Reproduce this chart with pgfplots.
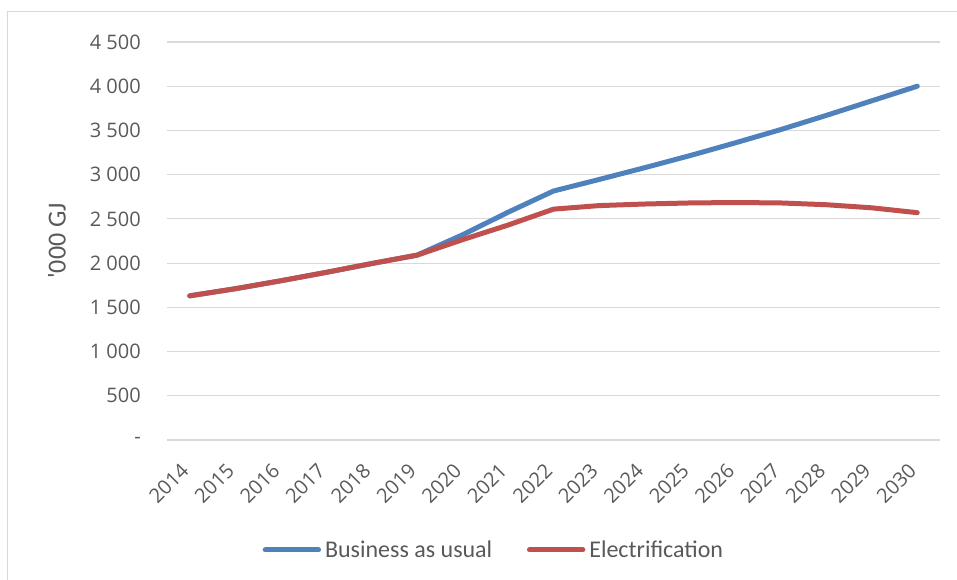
\documentclass[border=0pt]{standalone}
\usepackage{pgfplots}
\pgfplotsset{compat=1.18}
\usepackage{fontspec}
\setmainfont{Carlito}
\newfontfamily\tickfont{Open Sans}
\definecolor{bau}{HTML}{4F81BD}
\definecolor{elec}{HTML}{C0504D}
\definecolor{gridc}{HTML}{D9D9D9}
\definecolor{txt}{HTML}{595959}
\begin{document}
\begin{tikzpicture}
\useasboundingbox (0,0) rectangle (717.75pt,435pt);
\begin{axis}[
  at={(125.25pt,105pt)}, anchor=south west,
  scale only axis, width=579.75pt, height=298.5pt,
  xmin=-0.5, xmax=16.5, ymin=0, ymax=4500,
  axis line style={draw=none},
  major tick length=0pt,
  xtick={0,...,16},
  xticklabels={2014,2015,2016,2017,2018,2019,2020,2021,2022,2023,2024,2025,2026,2027,2028,2029,2030},
  ytick={0,500,...,4500},
  yticklabels={{-\hspace{0.7em}},500,1 000,1 500,2 000,2 500,3 000,3 500,4 000,4 500},
  ymajorgrids, grid style={gridc, line width=0.9pt},
  ticklabel style={font=\tickfont\fontsize{15}{18}\selectfont, text=txt},
  xticklabel style={xshift=-7.5pt, yshift=-16pt, rotate=45, anchor=north east, inner sep=0pt},
  yticklabel style={anchor=east, inner sep=0pt, xshift=-19.5pt},
  ylabel={\textquotesingle 000 GJ},
  every axis y label/.style={at={(axis description cs:-0.1423,0.5)}, rotate=90, anchor=center, font=\fontsize{19.5}{22}\selectfont, text=txt},
  legend columns=2,
  legend style={at={(axis description cs:0.1235,-0.2764)}, anchor=west, draw=none, fill=none, inner sep=0pt,
    nodes={inner sep=0pt, font=\fontsize{18}{21}\selectfont, text=txt},
    /tikz/every odd column/.append style={column sep=3pt},
    /tikz/every even column/.append style={column sep=26pt}},
  legend image code/.code={\draw[#1, line cap=round] (0pt,0pt) -- (40pt,0pt);},
  every axis plot/.append style={line width=3.75pt, line join=round, line cap=round, mark=none},
  clip=false,
]
\addplot[bau] coordinates {(0,1630)(1,1710)(2,1800)(3,1895)(4,1995)(5,2090)(6,2320)(7,2575)(8,2815)(9,2945)(10,3078)(11,3215)(12,3360)(13,3510)(14,3670)(15,3835)(16,4000)};
\addlegendentry{Business as usual}
\addplot[elec] coordinates {(0,1630)(1,1710)(2,1800)(3,1895)(4,1995)(5,2090)(6,2265)(7,2430)(8,2610)(9,2650)(10,2668)(11,2680)(12,2685)(13,2680)(14,2660)(15,2625)(16,2570)};
\addlegendentry{Electrification}
\end{axis}
\draw[gridc, line width=0.75pt] (5.25pt,0pt) -- (5.25pt,426pt) -- (717.75pt,426pt);
\end{tikzpicture}
\end{document}
